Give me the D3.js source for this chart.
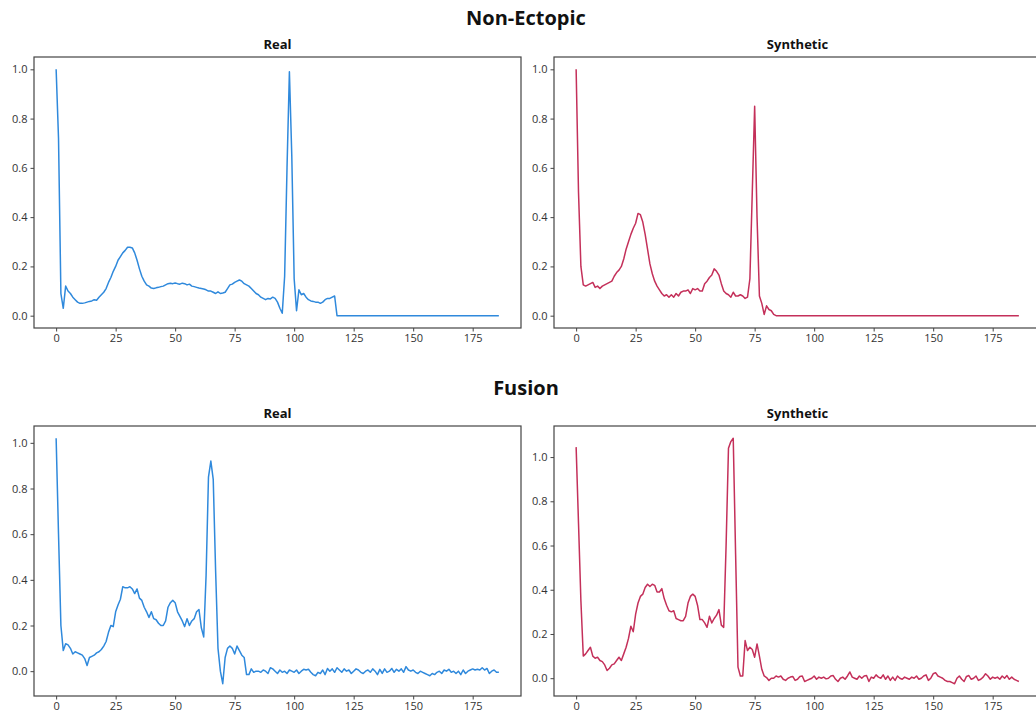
<!DOCTYPE html>
<html>
<head>
<meta charset="utf-8">
<script src="https://cdn.jsdelivr.net/npm/d3@7"></script>
<style>
  body { margin: 0; background: #fff; }
  svg { display: block; }
  .tick text { font-family: "Open Sans", "DejaVu Sans", sans-serif; font-size: 11px; fill: #333; }
  .tick line { stroke: #444; }
  .suptitle { font-family: "Open Sans", sans-serif; font-weight: 700; font-size: 20px; fill: #111; }
  .subtitle { font-family: "Open Sans", sans-serif; font-weight: 700; font-size: 13px; fill: #111; }
</style>
</head>
<body>
<svg id="chart" width="1036" height="718"></svg>
<script>
// beat samples, index 0..186
var nonEctopicReal = [
  1.0, 0.72, 0.09, 0.03, 0.12, 0.10, 0.09, 0.075, 0.065, 0.055,
  0.05, 0.05, 0.052, 0.055, 0.058, 0.06, 0.065, 0.063, 0.075, 0.085,
  0.095, 0.11, 0.135, 0.155, 0.18, 0.2, 0.225, 0.24, 0.255, 0.265,
  0.278, 0.278, 0.275, 0.255, 0.225, 0.19, 0.16, 0.14, 0.125, 0.12,
  0.112, 0.11, 0.113, 0.115, 0.118, 0.12, 0.125, 0.13, 0.132, 0.13,
  0.133, 0.13, 0.128, 0.132, 0.13, 0.125, 0.128, 0.12, 0.118, 0.115,
  0.112, 0.11, 0.108, 0.105, 0.1, 0.1, 0.095, 0.09, 0.097, 0.09,
  0.092, 0.095, 0.11, 0.125, 0.128, 0.135, 0.14, 0.145, 0.14, 0.13,
  0.125, 0.12, 0.11, 0.1, 0.09, 0.085, 0.075, 0.07, 0.065, 0.07,
  0.068, 0.075, 0.07, 0.055, 0.03, 0.01, 0.16, 0.6, 0.99, 0.65,
  0.15, 0.02, 0.105, 0.085, 0.09, 0.075, 0.065, 0.06, 0.058, 0.055,
  0.055, 0.05, 0.055, 0.065, 0.07, 0.07, 0.075, 0.08, 0, 0,
  0, 0, 0, 0, 0, 0, 0, 0, 0, 0,
  0, 0, 0, 0, 0, 0, 0, 0, 0, 0,
  0, 0, 0, 0, 0, 0, 0, 0, 0, 0,
  0, 0, 0, 0, 0, 0, 0, 0, 0, 0,
  0, 0, 0, 0, 0, 0, 0, 0, 0, 0,
  0, 0, 0, 0, 0, 0, 0, 0, 0, 0,
  0, 0, 0, 0, 0, 0, 0
];

var nonEctopicSynth = [
  1.0, 0.5, 0.2, 0.125, 0.12, 0.125, 0.13, 0.135, 0.115, 0.12,
  0.11, 0.12, 0.125, 0.13, 0.135, 0.14, 0.16, 0.175, 0.185, 0.2,
  0.23, 0.27, 0.3, 0.33, 0.355, 0.375, 0.415, 0.41, 0.38, 0.33,
  0.27, 0.21, 0.17, 0.14, 0.12, 0.105, 0.09, 0.08, 0.085, 0.075,
  0.085, 0.075, 0.09, 0.08, 0.095, 0.1, 0.1, 0.105, 0.09, 0.11,
  0.105, 0.11, 0.1, 0.1, 0.13, 0.14, 0.155, 0.165, 0.19, 0.18,
  0.165, 0.13, 0.1, 0.09, 0.085, 0.075, 0.095, 0.08, 0.08, 0.085,
  0.08, 0.07, 0.075, 0.15, 0.5, 0.85, 0.4, 0.08, 0.05, 0.005,
  0.04, 0.025, 0.02, 0.005, 0, 0, 0, 0, 0, 0,
  0, 0, 0, 0, 0, 0, 0, 0, 0, 0,
  0, 0, 0, 0, 0, 0, 0, 0, 0, 0,
  0, 0, 0, 0, 0, 0, 0, 0, 0, 0,
  0, 0, 0, 0, 0, 0, 0, 0, 0, 0,
  0, 0, 0, 0, 0, 0, 0, 0, 0, 0,
  0, 0, 0, 0, 0, 0, 0, 0, 0, 0,
  0, 0, 0, 0, 0, 0, 0, 0, 0, 0,
  0, 0, 0, 0, 0, 0, 0, 0, 0, 0,
  0, 0, 0, 0, 0, 0, 0, 0, 0, 0,
  0, 0, 0, 0, 0, 0, 0
];

var fusionReal = [
  1.02, 0.6, 0.2, 0.09, 0.12, 0.115, 0.1, 0.075, 0.085, 0.08,
  0.075, 0.07, 0.055, 0.025, 0.06, 0.065, 0.07, 0.08, 0.085, 0.095,
  0.11, 0.13, 0.17, 0.2, 0.195, 0.26, 0.29, 0.315, 0.37, 0.365,
  0.365, 0.37, 0.36, 0.34, 0.36, 0.32, 0.31, 0.28, 0.26, 0.235,
  0.26, 0.23, 0.225, 0.21, 0.2, 0.2, 0.22, 0.28, 0.3, 0.31,
  0.3, 0.26, 0.24, 0.22, 0.195, 0.23, 0.2, 0.22, 0.23, 0.26,
  0.27, 0.19, 0.15, 0.42, 0.85, 0.92, 0.84, 0.44, 0.1, 0.0,
  -0.055, 0.06, 0.1, 0.11, 0.1, 0.075, 0.11, 0.09, 0.07, 0.06,
  -0.015, -0.015, 0.01, -0.005, 0.0,
  0.0, -0.005, 0.005, 0.0, -0.01, 0.015, 0.01, 0.0, -0.01, 0.005,
  -0.005, 0.0, -0.01, 0.005, 0.0, -0.005, 0.005, -0.01, 0.0, 0.008,
  0.005, 0.008, -0.005, -0.015, -0.02, -0.005, -0.01, 0.005, -0.015, 0.012,
  0.0, 0.01, -0.005, 0.015, 0.005, -0.005, 0.01, 0.0, 0.005, -0.01,
  0.0, 0.01, 0.005, -0.005, -0.01, 0.0, 0.005, -0.005, 0.01, 0.0,
  -0.015, 0.008, -0.01, 0.01, -0.005, 0.0, 0.012, -0.005, 0.008, 0.0,
  0.01, -0.005, 0.02, 0.005, 0.0, 0.005, -0.005, -0.01, 0.0, -0.005,
  -0.01, -0.015, -0.02, -0.01, -0.015, -0.005, 0.0, -0.01, 0.005, 0.0,
  0.008, -0.005, 0.0, -0.01, 0.0, -0.015, 0.005, -0.01, 0.0, 0.005,
  0.01, 0.005, 0.008, 0.005, 0.015, 0.005, 0.012, -0.01, 0.0, 0.005, -0.005, -0.005
];

var fusionSynth = [
  1.045, 0.7, 0.35, 0.1, 0.11, 0.125, 0.14, 0.1, 0.09, 0.095,
  0.08, 0.075, 0.06, 0.035, 0.045, 0.06, 0.065, 0.08, 0.095, 0.08,
  0.11, 0.14, 0.18, 0.235, 0.21, 0.29, 0.34, 0.37, 0.38, 0.41,
  0.425, 0.415, 0.425, 0.42, 0.39, 0.39, 0.405, 0.36, 0.33, 0.305,
  0.3, 0.305, 0.27, 0.265, 0.26, 0.26, 0.28, 0.34, 0.37, 0.38,
  0.37, 0.33, 0.265, 0.265, 0.25, 0.23, 0.28, 0.25, 0.27, 0.285,
  0.31, 0.24, 0.23, 0.6, 1.04, 1.07, 1.085, 0.56, 0.05, 0.01,
  0.01, 0.17, 0.125, 0.14, 0.13, 0.095, 0.155, 0.1, 0.04, 0.01,
  0.003, -0.01, 0.0,
  0.0, 0.01, 0.005, 0.01, -0.005, -0.01, 0.0, 0.005, 0.008, -0.01,
  -0.005, 0.008, 0.01, -0.015, -0.01, -0.005, 0.0, 0.01, -0.005, 0.005,
  0.0, 0.005, -0.003, 0.0, 0.01, 0.012, -0.005, -0.015, 0.0, 0.005,
  -0.005, 0.01, 0.028, 0.005, 0.0, -0.005, 0.01, 0.0, 0.01, 0.012,
  -0.015, 0.005, 0.0, 0.015, 0.005, 0.0, 0.015, -0.005, 0.01, -0.01,
  0.005, -0.01, 0.01, 0.0, -0.005, 0.005, 0.0, -0.005, 0.005, 0.0,
  0.01, -0.005, 0.0, 0.01, 0.015, -0.01, 0.0, 0.02, 0.025, 0.01,
  0.005, 0.0, -0.01, -0.015, -0.015, -0.02, -0.025, 0.0, 0.01, -0.005,
  -0.015, 0.008, 0.012, -0.005, 0.0, 0.01, -0.01, -0.005, 0.005, 0.02,
  0.01, -0.005, 0.005, 0.0, 0.005, -0.005, 0.01, 0.0, 0.012, -0.005, 0.005, -0.005, -0.01, -0.015
];

var xTicks = [0, 25, 50, 75, 100, 125, 150, 175];
var yTicks = [0, 0.2, 0.4, 0.6, 0.8, 1.0];
var rowTitles = ["Non-Ectopic", "Fusion"];
var colTitles = ["Real", "Synthetic"];

var blue = "#2f89dc";
var red = "#c4305a";

var svg = d3.select("#chart");

var panelW = 487;
var colX = [34, 554];
var rowY = [{top: 57, bottom: 328}, {top: 426, bottom: 696}];
var supY = [25, 395];
var subY = [49, 418];

function drawPanel(data, color, col, row) {
  var left = colX[col], top = rowY[row].top, bottom = rowY[row].bottom;
  var n = data.length;
  var xPad = (n - 1) * 0.05;
  var x = d3.scaleLinear().domain([-xPad, n - 1 + xPad]).range([left, left + panelW]);
  var ext = d3.extent(data);
  var yPad = (ext[1] - ext[0]) * 0.05;
  var y = d3.scaleLinear().domain([ext[0] - yPad, ext[1] + yPad]).range([bottom, top]);

  var g = svg.append("g");

  g.append("text")
    .attr("class", "subtitle")
    .attr("x", left + panelW / 2)
    .attr("y", subY[row])
    .attr("text-anchor", "middle")
    .text(colTitles[col]);

  var xAxis = g.append("g")
    .attr("transform", "translate(0," + bottom + ")")
    .call(d3.axisBottom(x).tickValues(xTicks).tickSize(3.5).tickPadding(3).tickFormat(d3.format("d")));
  xAxis.select(".domain").remove();

  var yAxis = g.append("g")
    .attr("transform", "translate(" + left + ",0)")
    .call(d3.axisLeft(y).tickValues(yTicks.filter(function(t){ return t >= y.domain()[0] && t <= y.domain()[1]; }))
      .tickSize(3.5).tickPadding(3).tickFormat(d3.format(".1f")));
  yAxis.select(".domain").remove();

  var line = d3.line()
    .x(function(d, i){ return x(i); })
    .y(function(d){ return y(d); });

  g.append("path")
    .datum(data)
    .attr("fill", "none")
    .attr("stroke", color)
    .attr("stroke-width", 1.5)
    .attr("stroke-linejoin", "round")
    .attr("d", line);

  g.append("rect")
    .attr("x", left)
    .attr("y", top)
    .attr("width", panelW)
    .attr("height", bottom - top)
    .attr("fill", "none")
    .attr("stroke", "#444")
    .attr("stroke-width", 1.2);
}

rowTitles.forEach(function(t, r){
  svg.append("text")
    .attr("class", "suptitle")
    .attr("x", 526)
    .attr("y", supY[r])
    .attr("text-anchor", "middle")
    .text(t);
});

drawPanel(nonEctopicReal, blue, 0, 0);
drawPanel(nonEctopicSynth, red, 1, 0);
drawPanel(fusionReal, blue, 0, 1);
drawPanel(fusionSynth, red, 1, 1);
</script>
</body>
</html>
